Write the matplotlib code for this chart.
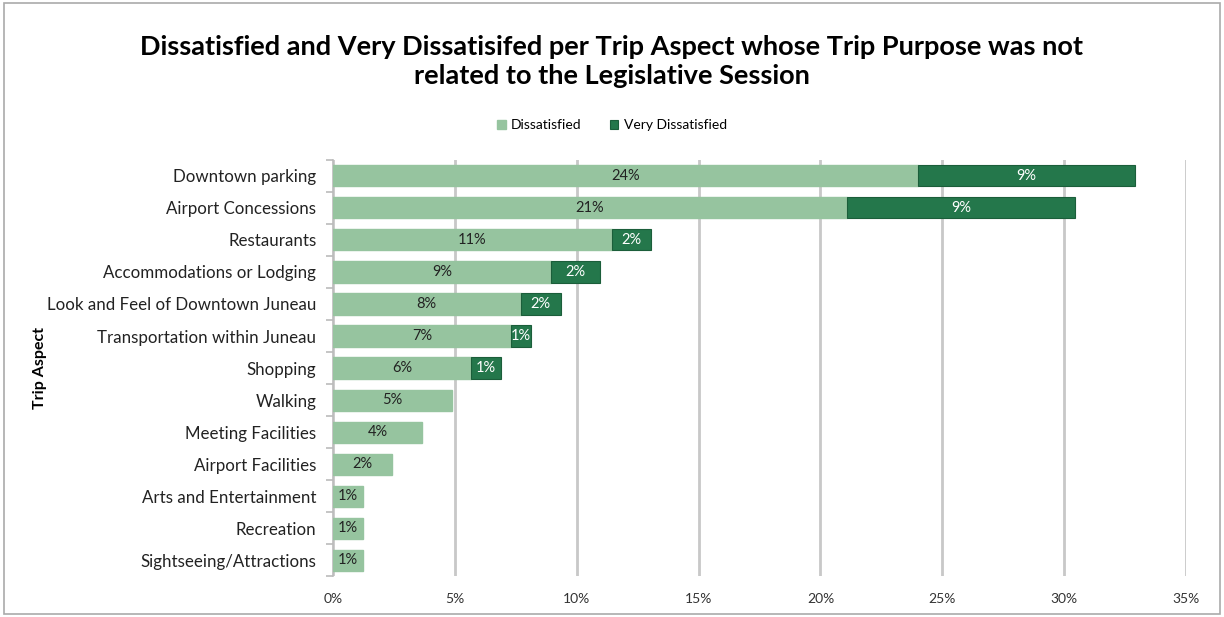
import matplotlib.pyplot as plt
from matplotlib.patches import Rectangle

plt.rcParams['font.family'] = ['Lato', 'DejaVu Sans']

# Trip aspects, top to bottom
aspects = ['Downtown parking', 'Airport Concessions', 'Restaurants',
           'Accommodations or Lodging', 'Look and Feel of Downtown Juneau',
           'Transportation within Juneau', 'Shopping', 'Walking',
           'Meeting Facilities', 'Airport Facilities', 'Arts and Entertainment',
           'Recreation', 'Sightseeing/Attractions']
dissatisfied = [24.0, 21.1, 11.45, 8.95, 7.7, 7.3, 5.66, 4.88, 3.65, 2.42, 1.23, 1.23, 1.23]
very_dissatisfied = [8.9, 9.35, 1.6, 2.0, 1.64, 0.82, 1.23, 0, 0, 0, 0, 0, 0]
x_ticks = [0, 5, 10, 15, 20, 25, 30, 35]

light = '#96c49f'
dark = '#24774b'

fig = plt.figure(figsize=(12.24, 6.17), dpi=100)
ax = fig.add_axes([0.272, 0.066, 0.697, 0.675])

y = list(range(len(aspects)))
ax.barh(y, dissatisfied, height=0.66, color=light, edgecolor=light, label='Dissatisfied', zorder=3)
bars = ax.barh(y, very_dissatisfied, left=dissatisfied, height=0.66, color=dark, edgecolor='#1b5e3a',
               linewidth=0.8, label='Very Dissatisfied', zorder=3)
for b, v in zip(bars, very_dissatisfied):
    if v == 0:
        b.set_visible(False)

# value labels
for i in y:
    d = dissatisfied[i]
    ax.text(d / 2, i, f'{round(d)}%', ha='center', va='center', fontsize=10.5, color='#222222', zorder=4)
    v = very_dissatisfied[i]
    if v > 0:
        ax.text(d + v / 2, i, f'{round(v)}%', ha='center', va='center', fontsize=10.5, color='white', zorder=4)

ax.set_xlim(0, 35)
ax.set_ylim(len(aspects) - 0.5, -0.5)
ax.set_xticks(x_ticks)
ax.set_xticklabels([f'{t}%' for t in x_ticks], fontsize=10, color='#333333')
ax.set_yticks(y)
ax.set_yticklabels(aspects, fontsize=12.2, color='#222222')
ax.set_yticks([i + 0.5 for i in range(-1, len(aspects))], minor=True)
ax.tick_params(axis='y', which='major', length=0, pad=12)
ax.tick_params(axis='y', which='minor', length=5, color='#bbbbbb', width=1.2)
ax.tick_params(axis='x', length=0, pad=12)

ax.grid(axis='x', color='#c8c8c8', linewidth=2, zorder=0)
for s in ['top', 'right', 'bottom']:
    ax.spines[s].set_visible(False)
ax.spines['left'].set_color('#bbbbbb')
ax.spines['left'].set_linewidth(1.2)

ax.set_ylabel('Trip Aspect', fontsize=11.5, fontweight='bold')
ax.yaxis.set_label_coords(-0.335, 0.5)

fig.suptitle('Dissatisfied and Very Dissatisifed per Trip Aspect whose Trip Purpose was not\nrelated to the Legislative Session',
             y=0.943, fontsize=19.5, fontweight='bold', linespacing=1.25)

fig.legend(loc='center', bbox_to_anchor=(0.5, 0.797), ncol=2, frameon=False, fontsize=10,
           handlelength=0.6, handleheight=0.6, handletextpad=0.4, columnspacing=2.0)

# outer frame
fig.patches.append(Rectangle((0.003, 0.005), 0.994, 0.99, transform=fig.transFigure,
                             fill=False, edgecolor='#aaaaaa', linewidth=1.2))

plt.savefig('out.png', dpi=100)
